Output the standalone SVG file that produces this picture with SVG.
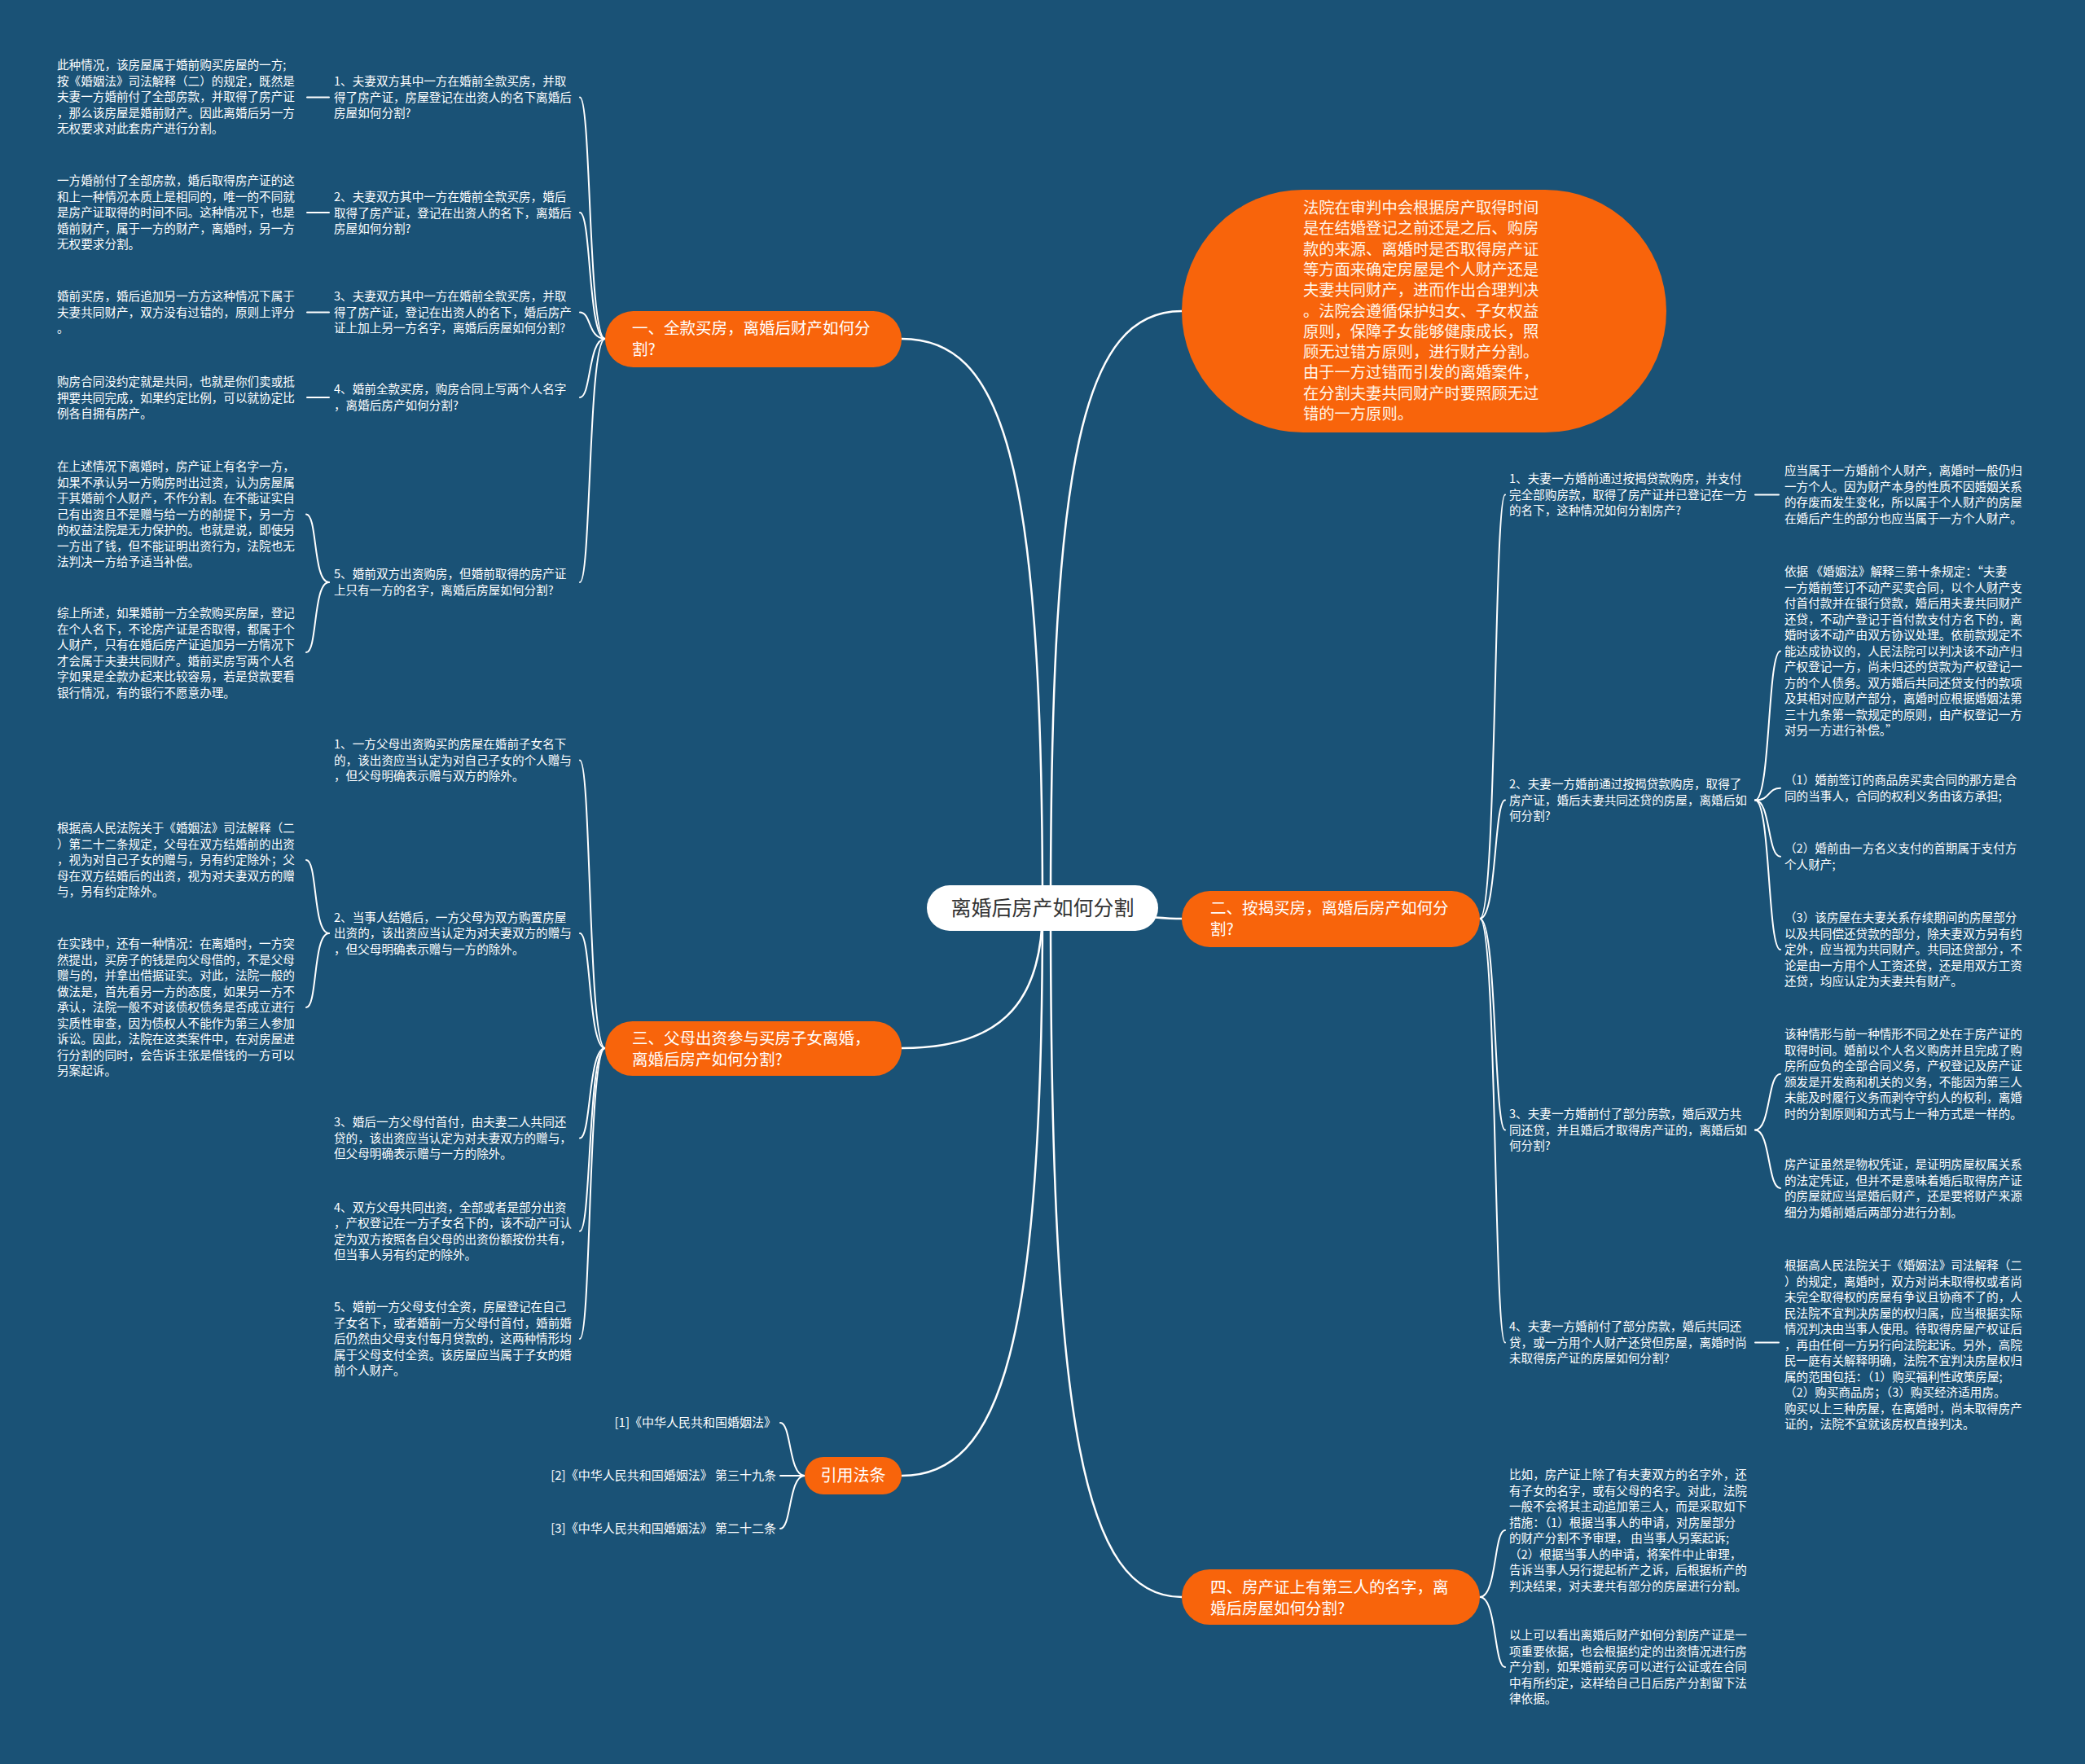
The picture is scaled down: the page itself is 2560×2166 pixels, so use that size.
<svg xmlns="http://www.w3.org/2000/svg" width="2560" height="2166" viewBox="0 0 2560 2166">
<style>
.t{font-family:"Noto Sans CJK SC","Liberation Sans",sans-serif;font-size:14.6px;fill:#ffffff}
.b{font-family:"Noto Sans CJK SC","Liberation Sans",sans-serif;font-size:19.5px;fill:#ffffff}
.c{font-family:"Noto Sans CJK SC","Liberation Sans",sans-serif;font-size:25px;fill:#333333}
.bub{font-family:"Noto Sans CJK SC","Liberation Sans",sans-serif;font-size:19.3px;fill:#fff6ea}
.ln{fill:none;stroke:#ffffff;stroke-width:2;stroke-linecap:round}
.mn{fill:none;stroke:#ffffff;stroke-width:2.5}
.on{fill:#f8640b}
</style>
<rect width="2560" height="2166" fill="#1a5276"/>

<g id="connectors">
  <!-- main -->
  <path class="mn" d="M1280,1115 C1280,560 1230,416 1107,416"/>
  <path class="mn" d="M1280,1115 C1280,1240 1220,1287 1107,1287"/>
  <path class="mn" d="M1280,1115 C1280,1650 1230,1812 1107,1812"/>
  <path class="mn" d="M1290,1115 C1290,560 1330,382 1451,382"/>
  <path class="mn" d="M1290,1115 C1340,1115 1400,1128 1451,1128"/>
  <path class="mn" d="M1290,1115 C1290,1750 1330,1961 1451,1961"/>
  <!-- section 1 -->
  <path class="ln" d="M743,416 C722,416 726,119.5 712,119.5"/>
  <path class="ln" d="M743,416 C722,416 726,261 712,261"/>
  <path class="ln" d="M743,416 C722,416 726,383.5 712,383.5"/>
  <path class="ln" d="M743,416 C722,416 726,488 712,488"/>
  <path class="ln" d="M743,416 C722,416 726,715 712,715"/>
  <path class="ln" d="M404,119.5 L377,119.5"/>
  <path class="ln" d="M404,261 L377,261"/>
  <path class="ln" d="M404,383.5 L377,383.5"/>
  <path class="ln" d="M404,488 L377,488"/>
  <path class="ln" d="M404,715 C384,715 390,631.5 376,631.5"/>
  <path class="ln" d="M404,715 C384,715 390,801 376,801"/>
  <!-- section 3 -->
  <path class="ln" d="M743,1287 C722,1287 726,933.5 712,933.5"/>
  <path class="ln" d="M743,1287 C722,1287 726,1146 712,1146"/>
  <path class="ln" d="M743,1287 C722,1287 726,1397.5 712,1397.5"/>
  <path class="ln" d="M743,1287 C722,1287 726,1511.7 712,1511.7"/>
  <path class="ln" d="M743,1287 C722,1287 726,1644 712,1644"/>
  <path class="ln" d="M404,1146 C384,1146 390,1056 376,1056"/>
  <path class="ln" d="M404,1146 C384,1146 390,1237 376,1237"/>
  <!-- citations -->
  <path class="ln" d="M988,1812 C968,1812 972,1747 958,1747"/>
  <path class="ln" d="M988,1812 L958,1812"/>
  <path class="ln" d="M988,1812 C968,1812 972,1877 958,1877"/>
  <!-- section 2 -->
  <path class="ln" d="M1817,1128 C1838,1128 1834,607.5 1848,607.5"/>
  <path class="ln" d="M1817,1128 C1838,1128 1834,982.5 1848,982.5"/>
  <path class="ln" d="M1817,1128 C1838,1128 1834,1387.5 1848,1387.5"/>
  <path class="ln" d="M1817,1128 C1838,1128 1834,1648.5 1848,1648.5"/>
  <path class="ln" d="M2155,607.5 L2184,607.5"/>
  <path class="ln" d="M2155,982.5 C2174,982.5 2170,799.5 2186,799.5"/>
  <path class="ln" d="M2155,982.5 C2174,982.5 2170,967.75 2186,967.75"/>
  <path class="ln" d="M2155,982.5 C2174,982.5 2170,1051.75 2186,1051.75"/>
  <path class="ln" d="M2155,982.5 C2174,982.5 2170,1166 2186,1166"/>
  <path class="ln" d="M2155,1387.5 C2174,1387.5 2170,1318.75 2186,1318.75"/>
  <path class="ln" d="M2155,1387.5 C2174,1387.5 2170,1459 2186,1459"/>
  <path class="ln" d="M2155,1648.5 L2184,1648.5"/>
  <!-- section 4 -->
  <path class="ln" d="M1817,1961 C1838,1961 1834,1879 1848,1879"/>
  <path class="ln" d="M1817,1961 C1838,1961 1834,2047 1848,2047"/>
</g>

<g id="center">
  <rect x="1138" y="1087" width="284" height="56" rx="28" fill="#ffffff"/>
  <text class="c" x="1280" y="1124" text-anchor="middle">离婚后房产如何分割</text>
</g>

<g id="summary">
  <rect class="on" x="1451" y="233" width="595" height="298" rx="149"/>
  <text class="bub" x="1600" y="262">
    <tspan x="1600">法院在审判中会根据房产取得时间</tspan>
    <tspan x="1600" dy="25.3">是在结婚登记之前还是之后、购房</tspan>
    <tspan x="1600" dy="25.3">款的来源、离婚时是否取得房产证</tspan>
    <tspan x="1600" dy="25.3">等方面来确定房屋是个人财产还是</tspan>
    <tspan x="1600" dy="25.3">夫妻共同财产，进而作出合理判决</tspan>
    <tspan x="1600" dy="25.3">。法院会遵循保护妇女、子女权益</tspan>
    <tspan x="1600" dy="25.3">原则，保障子女能够健康成长，照</tspan>
    <tspan x="1600" dy="25.3">顾无过错方原则，进行财产分割。</tspan>
    <tspan x="1600" dy="25.3">由于一方过错而引发的离婚案件，</tspan>
    <tspan x="1600" dy="25.3">在分割夫妻共同财产时要照顾无过</tspan>
    <tspan x="1600" dy="25.3">错的一方原则。</tspan>
  </text>
</g>

<g id="branch1">
  <rect class="on" x="743" y="382" width="364" height="69" rx="34.5"/>
  <text class="b" x="776" y="410"><tspan x="776">一、全款买房，离婚后财产如何分</tspan><tspan x="776" dy="26">割?</tspan></text>
</g>
<g id="b1-item1">
  <text class="t" x="410" y="105"><tspan x="410">1、夫妻双方其中一方在婚前全款买房，并取</tspan><tspan x="410" dy="19.5">得了房产证，房屋登记在出资人的名下离婚后</tspan><tspan x="410" dy="19.5">房屋如何分割?</tspan></text>
</g>
<g id="b1-leaf1">
  <text class="t" x="70" y="85"><tspan x="70">此种情况，该房屋属于婚前购买房屋的一方;</tspan><tspan x="70" dy="19.5">按《婚姻法》司法解释（二）的规定，既然是</tspan><tspan x="70" dy="19.5">夫妻一方婚前付了全部房款，并取得了房产证</tspan><tspan x="70" dy="19.5">，那么该房屋是婚前财产。因此离婚后另一方</tspan><tspan x="70" dy="19.5">无权要求对此套房产进行分割。</tspan></text>
</g>
<g id="b1-item2">
  <text class="t" x="410" y="247"><tspan x="410">2、夫妻双方其中一方在婚前全款买房，婚后</tspan><tspan x="410" dy="19.5">取得了房产证，登记在出资人的名下，离婚后</tspan><tspan x="410" dy="19.5">房屋如何分割?</tspan></text>
</g>
<g id="b1-leaf2">
  <text class="t" x="70" y="227"><tspan x="70">一方婚前付了全部房款，婚后取得房产证的这</tspan><tspan x="70" dy="19.5">和上一种情况本质上是相同的，唯一的不同就</tspan><tspan x="70" dy="19.5">是房产证取得的时间不同。这种情况下，也是</tspan><tspan x="70" dy="19.5">婚前财产，属于一方的财产，离婚时，另一方</tspan><tspan x="70" dy="19.5">无权要求分割。</tspan></text>
</g>
<g id="b1-item3">
  <text class="t" x="410" y="369"><tspan x="410">3、夫妻双方其中一方在婚前全款买房，并取</tspan><tspan x="410" dy="19.5">得了房产证，登记在出资人的名下，婚后房产</tspan><tspan x="410" dy="19.5">证上加上另一方名字，离婚后房屋如何分割?</tspan></text>
</g>
<g id="b1-leaf3">
  <text class="t" x="70" y="369"><tspan x="70">婚前买房，婚后追加另一方方这种情况下属于</tspan><tspan x="70" dy="19.5">夫妻共同财产，双方没有过错的，原则上评分</tspan><tspan x="70" dy="19.5">。</tspan></text>
</g>
<g id="b1-item4">
  <text class="t" x="410" y="483"><tspan x="410">4、婚前全款买房，购房合同上写两个人名字</tspan><tspan x="410" dy="19.5">，离婚后房产如何分割?</tspan></text>
</g>
<g id="b1-leaf4">
  <text class="t" x="70" y="474"><tspan x="70">购房合同没约定就是共同，也就是你们卖或抵</tspan><tspan x="70" dy="19.5">押要共同完成，如果约定比例，可以就协定比</tspan><tspan x="70" dy="19.5">例各自拥有房产。</tspan></text>
</g>
<g id="b1-item5">
  <text class="t" x="410" y="710"><tspan x="410">5、婚前双方出资购房，但婚前取得的房产证</tspan><tspan x="410" dy="19.5">上只有一方的名字，离婚后房屋如何分割?</tspan></text>
</g>
<g id="b1-leaf5a">
  <text class="t" x="70" y="578"><tspan x="70">在上述情况下离婚时，房产证上有名字一方，</tspan><tspan x="70" dy="19.5">如果不承认另一方购房时出过资，认为房屋属</tspan><tspan x="70" dy="19.5">于其婚前个人财产，不作分割。在不能证实自</tspan><tspan x="70" dy="19.5">己有出资且不是赠与给一方的前提下，另一方</tspan><tspan x="70" dy="19.5">的权益法院是无力保护的。也就是说，即使另</tspan><tspan x="70" dy="19.5">一方出了钱，但不能证明出资行为，法院也无</tspan><tspan x="70" dy="19.5">法判决一方给予适当补偿。</tspan></text>
</g>
<g id="b1-leaf5b">
  <text class="t" x="70" y="758"><tspan x="70">综上所述，如果婚前一方全款购买房屋，登记</tspan><tspan x="70" dy="19.5">在个人名下，不论房产证是否取得，都属于个</tspan><tspan x="70" dy="19.5">人财产，只有在婚后房产证追加另一方情况下</tspan><tspan x="70" dy="19.5">才会属于夫妻共同财产。婚前买房写两个人名</tspan><tspan x="70" dy="19.5">字如果是全款办起来比较容易，若是贷款要看</tspan><tspan x="70" dy="19.5">银行情况，有的银行不愿意办理。</tspan></text>
</g>

<g id="branch3">
  <rect class="on" x="743" y="1254" width="364" height="67" rx="33.5"/>
  <text class="b" x="776" y="1282"><tspan x="776">三、父母出资参与买房子女离婚，</tspan><tspan x="776" dy="26">离婚后房产如何分割?</tspan></text>
</g>
<g id="b3-item1">
  <text class="t" x="410" y="919"><tspan x="410">1、一方父母出资购买的房屋在婚前子女名下</tspan><tspan x="410" dy="19.5">的，该出资应当认定为对自己子女的个人赠与</tspan><tspan x="410" dy="19.5">，但父母明确表示赠与双方的除外。</tspan></text>
</g>
<g id="b3-item2">
  <text class="t" x="410" y="1131.5"><tspan x="410">2、当事人结婚后，一方父母为双方购置房屋</tspan><tspan x="410" dy="19.5">出资的，该出资应当认定为对夫妻双方的赠与</tspan><tspan x="410" dy="19.5">，但父母明确表示赠与一方的除外。</tspan></text>
</g>
<g id="b3-leafA">
  <text class="t" x="70" y="1022"><tspan x="70">根据高人民法院关于《婚姻法》司法解释（二</tspan><tspan x="70" dy="19.5">）第二十二条规定，父母在双方结婚前的出资</tspan><tspan x="70" dy="19.5">，视为对自己子女的赠与，另有约定除外；父</tspan><tspan x="70" dy="19.5">母在双方结婚后的出资，视为对夫妻双方的赠</tspan><tspan x="70" dy="19.5">与，另有约定除外。</tspan></text>
</g>
<g id="b3-leafB">
  <text class="t" x="70" y="1164"><tspan x="70">在实践中，还有一种情况：在离婚时，一方突</tspan><tspan x="70" dy="19.5">然提出，买房子的钱是向父母借的，不是父母</tspan><tspan x="70" dy="19.5">赠与的，并拿出借据证实。对此，法院一般的</tspan><tspan x="70" dy="19.5">做法是，首先看另一方的态度，如果另一方不</tspan><tspan x="70" dy="19.5">承认，法院一般不对该债权债务是否成立进行</tspan><tspan x="70" dy="19.5">实质性审查，因为债权人不能作为第三人参加</tspan><tspan x="70" dy="19.5">诉讼。因此，法院在这类案件中，在对房屋进</tspan><tspan x="70" dy="19.5">行分割的同时，会告诉主张是借钱的一方可以</tspan><tspan x="70" dy="19.5">另案起诉。</tspan></text>
</g>
<g id="b3-item3">
  <text class="t" x="410" y="1383"><tspan x="410">3、婚后一方父母付首付，由夫妻二人共同还</tspan><tspan x="410" dy="19.5">贷的，该出资应当认定为对夫妻双方的赠与，</tspan><tspan x="410" dy="19.5">但父母明确表示赠与一方的除外。</tspan></text>
</g>
<g id="b3-item4">
  <text class="t" x="410" y="1487.5"><tspan x="410">4、双方父母共同出资，全部或者是部分出资</tspan><tspan x="410" dy="19.5">，产权登记在一方子女名下的，该不动产可认</tspan><tspan x="410" dy="19.5">定为双方按照各自父母的出资份额按份共有，</tspan><tspan x="410" dy="19.5">但当事人另有约定的除外。</tspan></text>
</g>
<g id="b3-item5">
  <text class="t" x="410" y="1610"><tspan x="410">5、婚前一方父母支付全资，房屋登记在自己</tspan><tspan x="410" dy="19.5">子女名下，或者婚前一方父母付首付，婚前婚</tspan><tspan x="410" dy="19.5">后仍然由父母支付每月贷款的，这两种情形均</tspan><tspan x="410" dy="19.5">属于父母支付全资。该房屋应当属于子女的婚</tspan><tspan x="410" dy="19.5">前个人财产。</tspan></text>
</g>

<g id="branch-law">
  <rect class="on" x="988" y="1789" width="119" height="46" rx="23"/>
  <text class="b" x="1047.5" y="1819" text-anchor="middle" style="font-size:20px">引用法条</text>
</g>
<g id="law1"><text class="t" x="953" y="1752" text-anchor="end" style="font-size:15px">[1]《中华人民共和国婚姻法》</text></g>
<g id="law2"><text class="t" x="953" y="1817" text-anchor="end" style="font-size:15px">[2]《中华人民共和国婚姻法》 第三十九条</text></g>
<g id="law3"><text class="t" x="953" y="1882" text-anchor="end" style="font-size:15px">[3]《中华人民共和国婚姻法》 第二十二条</text></g>

<g id="branch2">
  <rect class="on" x="1451" y="1094" width="366" height="69" rx="34.5"/>
  <text class="b" x="1486" y="1122"><tspan x="1486">二、按揭买房，离婚后房产如何分</tspan><tspan x="1486" dy="26">割?</tspan></text>
</g>
<g id="b2-item1">
  <text class="t" x="1853" y="593"><tspan x="1853">1、夫妻一方婚前通过按揭贷款购房，并支付</tspan><tspan x="1853" dy="19.5">完全部购房款，取得了房产证并已登记在一方</tspan><tspan x="1853" dy="19.5">的名下，这种情况如何分割房产?</tspan></text>
</g>
<g id="b2-leaf1">
  <text class="t" x="2191" y="583"><tspan x="2191">应当属于一方婚前个人财产，离婚时一般仍归</tspan><tspan x="2191" dy="19.5">一方个人。因为财产本身的性质不因婚姻关系</tspan><tspan x="2191" dy="19.5">的存废而发生变化，所以属于个人财产的房屋</tspan><tspan x="2191" dy="19.5">在婚后产生的部分也应当属于一方个人财产。</tspan></text>
</g>
<g id="b2-item2">
  <text class="t" x="1853" y="968"><tspan x="1853">2、夫妻一方婚前通过按揭贷款购房，取得了</tspan><tspan x="1853" dy="19.5">房产证，婚后夫妻共同还贷的房屋，离婚后如</tspan><tspan x="1853" dy="19.5">何分割?</tspan></text>
</g>
<g id="b2-leaf2a">
  <text class="t" x="2191" y="707"><tspan x="2191">依据 《婚姻法》解释三第十条规定：“夫妻</tspan><tspan x="2191" dy="19.5">一方婚前签订不动产买卖合同，以个人财产支</tspan><tspan x="2191" dy="19.5">付首付款并在银行贷款，婚后用夫妻共同财产</tspan><tspan x="2191" dy="19.5">还贷，不动产登记于首付款支付方名下的，离</tspan><tspan x="2191" dy="19.5">婚时该不动产由双方协议处理。依前款规定不</tspan><tspan x="2191" dy="19.5">能达成协议的，人民法院可以判决该不动产归</tspan><tspan x="2191" dy="19.5">产权登记一方，尚未归还的贷款为产权登记一</tspan><tspan x="2191" dy="19.5">方的个人债务。双方婚后共同还贷支付的款项</tspan><tspan x="2191" dy="19.5">及其相对应财产部分，离婚时应根据婚姻法第</tspan><tspan x="2191" dy="19.5">三十九条第一款规定的原则，由产权登记一方</tspan><tspan x="2191" dy="19.5">对另一方进行补偿。”</tspan></text>
</g>
<g id="b2-leaf2b">
  <text class="t" x="2191" y="963"><tspan x="2191">（1）婚前签订的商品房买卖合同的那方是合</tspan><tspan x="2191" dy="19.5">同的当事人，合同的权利义务由该方承担;</tspan></text>
</g>
<g id="b2-leaf2c">
  <text class="t" x="2191" y="1047"><tspan x="2191">（2）婚前由一方名义支付的首期属于支付方</tspan><tspan x="2191" dy="19.5">个人财产;</tspan></text>
</g>
<g id="b2-leaf2d">
  <text class="t" x="2191" y="1132"><tspan x="2191">（3）该房屋在夫妻关系存续期间的房屋部分</tspan><tspan x="2191" dy="19.5">以及共同偿还贷款的部分，除夫妻双方另有约</tspan><tspan x="2191" dy="19.5">定外，应当视为共同财产。共同还贷部分，不</tspan><tspan x="2191" dy="19.5">论是由一方用个人工资还贷，还是用双方工资</tspan><tspan x="2191" dy="19.5">还贷，均应认定为夫妻共有财产。</tspan></text>
</g>
<g id="b2-item3">
  <text class="t" x="1853" y="1373"><tspan x="1853">3、夫妻一方婚前付了部分房款，婚后双方共</tspan><tspan x="1853" dy="19.5">同还贷，并且婚后才取得房产证的，离婚后如</tspan><tspan x="1853" dy="19.5">何分割?</tspan></text>
</g>
<g id="b2-leaf3a">
  <text class="t" x="2191" y="1275"><tspan x="2191">该种情形与前一种情形不同之处在于房产证的</tspan><tspan x="2191" dy="19.5">取得时间。婚前以个人名义购房并且完成了购</tspan><tspan x="2191" dy="19.5">房所应负的全部合同义务，产权登记及房产证</tspan><tspan x="2191" dy="19.5">颁发是开发商和机关的义务，不能因为第三人</tspan><tspan x="2191" dy="19.5">未能及时履行义务而剥夺守约人的权利，离婚</tspan><tspan x="2191" dy="19.5">时的分割原则和方式与上一种方式是一样的。</tspan></text>
</g>
<g id="b2-leaf3b">
  <text class="t" x="2191" y="1435"><tspan x="2191">房产证虽然是物权凭证，是证明房屋权属关系</tspan><tspan x="2191" dy="19.5">的法定凭证，但并不是意味着婚后取得房产证</tspan><tspan x="2191" dy="19.5">的房屋就应当是婚后财产，还是要将财产来源</tspan><tspan x="2191" dy="19.5">细分为婚前婚后两部分进行分割。</tspan></text>
</g>
<g id="b2-item4">
  <text class="t" x="1853" y="1634"><tspan x="1853">4、夫妻一方婚前付了部分房款，婚后共同还</tspan><tspan x="1853" dy="19.5">贷，或一方用个人财产还贷但房屋，离婚时尚</tspan><tspan x="1853" dy="19.5">未取得房产证的房屋如何分割?</tspan></text>
</g>
<g id="b2-leaf4">
  <text class="t" x="2191" y="1559"><tspan x="2191">根据高人民法院关于《婚姻法》司法解释（二</tspan><tspan x="2191" dy="19.5">）的规定，离婚时，双方对尚未取得权或者尚</tspan><tspan x="2191" dy="19.5">未完全取得权的房屋有争议且协商不了的，人</tspan><tspan x="2191" dy="19.5">民法院不宜判决房屋的权归属，应当根据实际</tspan><tspan x="2191" dy="19.5">情况判决由当事人使用。待取得房屋产权证后</tspan><tspan x="2191" dy="19.5">，再由任何一方另行向法院起诉。另外，高院</tspan><tspan x="2191" dy="19.5">民一庭有关解释明确，法院不宜判决房屋权归</tspan><tspan x="2191" dy="19.5">属的范围包括：（1）购买福利性政策房屋;</tspan><tspan x="2191" dy="19.5">（2）购买商品房；（3）购买经济适用房。</tspan><tspan x="2191" dy="19.5">购买以上三种房屋，在离婚时，尚未取得房产</tspan><tspan x="2191" dy="19.5">证的，法院不宜就该房权直接判决。</tspan></text>
</g>

<g id="branch4">
  <rect class="on" x="1451" y="1927" width="366" height="68" rx="34"/>
  <text class="b" x="1486" y="1956"><tspan x="1486">四、房产证上有第三人的名字，离</tspan><tspan x="1486" dy="26">婚后房屋如何分割?</tspan></text>
</g>
<g id="b4-leafA">
  <text class="t" x="1853" y="1816"><tspan x="1853">比如，房产证上除了有夫妻双方的名字外，还</tspan><tspan x="1853" dy="19.5">有子女的名字，或有父母的名字。对此，法院</tspan><tspan x="1853" dy="19.5">一般不会将其主动追加第三人，而是采取如下</tspan><tspan x="1853" dy="19.5">措施：（1）根据当事人的申请，对房屋部分</tspan><tspan x="1853" dy="19.5">的财产分割不予审理， 由当事人另案起诉;</tspan><tspan x="1853" dy="19.5">（2）根据当事人的申请，将案件中止审理，</tspan><tspan x="1853" dy="19.5">告诉当事人另行提起析产之诉，后根据析产的</tspan><tspan x="1853" dy="19.5">判决结果，对夫妻共有部分的房屋进行分割。</tspan></text>
</g>
<g id="b4-leafB">
  <text class="t" x="1853" y="2013"><tspan x="1853">以上可以看出离婚后财产如何分割房产证是一</tspan><tspan x="1853" dy="19.5">项重要依据，也会根据约定的出资情况进行房</tspan><tspan x="1853" dy="19.5">产分割，如果婚前买房可以进行公证或在合同</tspan><tspan x="1853" dy="19.5">中有所约定，这样给自己日后房产分割留下法</tspan><tspan x="1853" dy="19.5">律依据。</tspan></text>
</g>
</svg>
